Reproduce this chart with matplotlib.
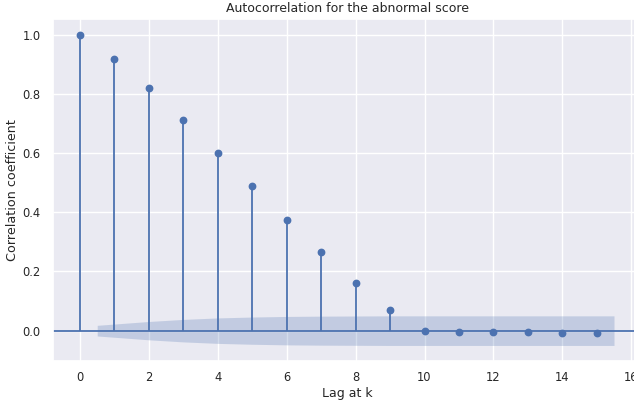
import numpy as np
import matplotlib
matplotlib.use('Agg')
import matplotlib.pyplot as plt
import seaborn as sns

# autocorrelation values (lag 0..15)
lags = np.arange(16)
acf_vals = [1.0, 0.918, 0.819, 0.713, 0.601, 0.490, 0.374, 0.265, 0.161, 0.069,
            -0.001, -0.005, -0.005, -0.005, -0.009, -0.009]
# half width of the confidence band for lags 1..15
band_half = [0.018, 0.031, 0.038, 0.043, 0.046, 0.048, 0.049, 0.0495, 0.05, 0.05,
             0.05, 0.05, 0.05, 0.05, 0.05]

sns.set_theme(style='darkgrid')
blue = sns.color_palette('deep')[0]

fig = plt.figure(figsize=(6.34, 4.05), dpi=100)
ax = fig.add_axes([53.3 / 634, 1 - 361 / 405, 587.4 / 634, 342 / 405])

ax.vlines(lags, 0, acf_vals, color=blue, lw=1.3)
ax.plot(lags, acf_vals, 'o', color=blue, ms=4.6)
ax.axhline(0, color=blue, lw=1.3)

# band drawn like statsmodels: first/last lag pushed out by half a step
band_x = lags[1:].astype(float)
band_x[0] -= 0.5
band_x[-1] += 0.5
hw = np.array(band_half)
ax.fill_between(band_x, -hw, hw, color=blue, alpha=0.25, lw=0)

ax.set_xlim(-0.775, 16.275)
ax.set_ylim(-0.1025, 1.0525)
ax.set_xticks(range(0, 17, 2))
ax.set_yticks([0.0, 0.2, 0.4, 0.6, 0.8, 1.0])
ax.tick_params(axis='y', labelsize=8.3, pad=3)
ax.tick_params(axis='x', labelsize=8.3, pad=1)

ax.set_title('Autocorrelation for the abnormal score', fontsize=9, pad=5)
ax.set_xlabel('Lag at k', fontsize=9, labelpad=2)
ax.set_ylabel('Correlation coefficient', fontsize=9.2, labelpad=2.5)

fig.savefig('out.png', dpi=100)
